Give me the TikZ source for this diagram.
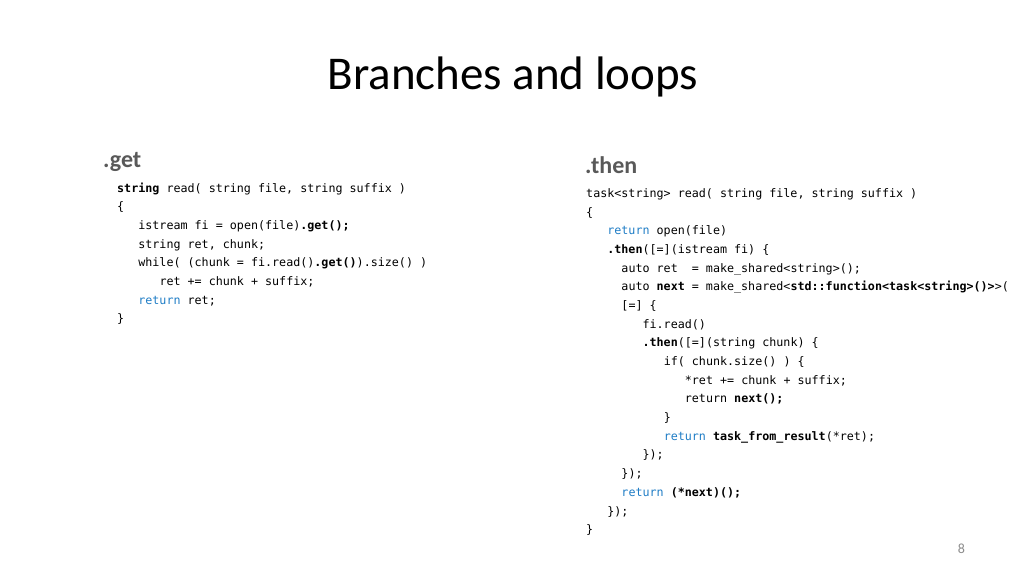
\documentclass[tikz,border=0pt]{standalone}
\usepackage{fontspec}
\setmainfont{Carlito}
\newfontfamily\codefont{DejaVu Sans Mono}
\definecolor{kwblue}{HTML}{1F7DC6}
\definecolor{headgray}{HTML}{595959}
\definecolor{pagegray}{HTML}{8C8C8C}
\newcommand{\kw}[1]{\textcolor{kwblue}{#1}}
\newcommand{\bd}[1]{\textbf{#1}}
\begin{document}
\begin{tikzpicture}[x=1pt,y=-1pt,
  codeline/.style={anchor=base west,inner sep=0pt,font=\codefont\fontsize{11.7}{14}\selectfont,text=black},
  heading/.style={anchor=base west,inner sep=0pt,font=\fontsize{24}{28}\selectfont\bfseries,text=headgray},
  titletext/.style={anchor=base,inner sep=0pt,font=\fontsize{47}{56}\selectfont,text=black},
  pagenum/.style={anchor=base,inner sep=0pt,font=\fontsize{14}{17}\selectfont,text=pagegray}]
\useasboundingbox[fill=white] (0,0) rectangle (1024,576);
\def\cw{7.05}
\def\lh{18.67}
\node[titletext] (title) at (513,89) {Branches and loops};
\node[heading] (hget) at (103,167) {.get};
\node[heading] (hthen) at (585,173) {.then};
% left column
\def\lx{117}
\def\ly{192}
\node[codeline] (g1) at (\lx,\ly) {\bd{string} read( string file, string suffix )};
\node[codeline] (g2) at (\lx,\ly+\lh) {\{};
\node[codeline] (g3) at (\lx+3*\cw,\ly+2*\lh) {istream fi = open(file)\bd{.get();}};
\node[codeline] (g4) at (\lx+3*\cw,\ly+3*\lh) {string ret, chunk;};
\node[codeline] (g5) at (\lx+3*\cw,\ly+4*\lh) {while( (chunk = fi.read()\bd{.get()}).size() )};
\node[codeline] (g6) at (\lx+6*\cw,\ly+5*\lh) {ret += chunk + suffix;};
\node[codeline] (g7) at (\lx+3*\cw,\ly+6*\lh) {\kw{return} ret;};
\node[codeline] (g8) at (\lx,\ly+7*\lh) {\}};
% right column
\def\rx{586}
\def\ry{197.6}
\node[codeline] (t1) at (\rx,\ry) {task<string> read( string file, string suffix )};
\node[codeline] (t2) at (\rx,\ry+\lh) {\{};
\node[codeline] (t3) at (\rx+3*\cw,\ry+2*\lh) {\kw{return} open(file)};
\node[codeline] (t4) at (\rx+3*\cw,\ry+3*\lh) {\bd{.then}([=](istream fi) \{};
\node[codeline] (t5) at (\rx+5*\cw,\ry+4*\lh) {auto ret~ = make\_shared<string>();};
\node[codeline] (t6) at (\rx+5*\cw,\ry+5*\lh) {auto \bd{next} = make\_shared<\bd{std::function<task<string>()>}>(};
\node[codeline] (t7) at (\rx+5*\cw,\ry+6*\lh) {[=] \{};
\node[codeline] (t8) at (\rx+8*\cw,\ry+7*\lh) {fi.read()};
\node[codeline] (t9) at (\rx+8*\cw,\ry+8*\lh) {\bd{.then}([=](string chunk) \{};
\node[codeline] (t10) at (\rx+11*\cw,\ry+9*\lh) {if( chunk.size() ) \{};
\node[codeline] (t11) at (\rx+14*\cw,\ry+10*\lh) {*ret += chunk + suffix;};
\node[codeline] (t12) at (\rx+14*\cw,\ry+11*\lh) {return \bd{next();}};
\node[codeline] (t13) at (\rx+11*\cw,\ry+12*\lh) {\}};
\node[codeline] (t14) at (\rx+11*\cw,\ry+13*\lh) {\kw{return} \bd{task\_from\_result}(*ret);};
\node[codeline] (t15) at (\rx+8*\cw,\ry+14*\lh) {\});};
\node[codeline] (t16) at (\rx+5*\cw,\ry+15*\lh) {\});};
\node[codeline] (t17) at (\rx+5*\cw,\ry+16*\lh) {\kw{return} \bd{(*next)();}};
\node[codeline] (t18) at (\rx+3*\cw,\ry+17*\lh) {\});};
\node[codeline] (t19) at (\rx,\ry+18*\lh) {\}};
\node[pagenum] (pg) at (961.5,553) {8};
\end{tikzpicture}
\end{document}
